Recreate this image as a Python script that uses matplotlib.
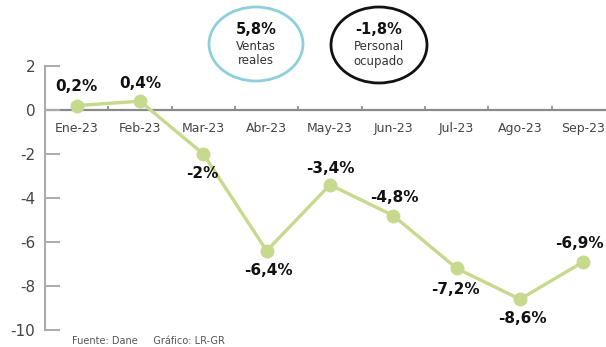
import matplotlib
matplotlib.use("Agg")
import matplotlib.pyplot as plt
from matplotlib.patches import Ellipse

plt.rcParams['axes.unicode_minus'] = False
plt.rcParams['font.family'] = ['DejaVu Sans']

# datos
meses = ["Ene-23", "Feb-23", "Mar-23", "Abr-23", "May-23",
         "Jun-23", "Jul-23", "Ago-23", "Sep-23"]
variacion = [0.2, 0.4, -2.0, -6.4, -3.4, -4.8, -7.2, -8.6, -6.9]
etiquetas = ["0,2%", "0,4%", "-2%", "-6,4%", "-3,4%",
             "-4,8%", "-7,2%", "-8,6%", "-6,9%"]
# desplazamiento de cada etiqueta (puntos)
offsets = [(0, 14), (0, 13), (-1, -14), (1, -14), (0, 12),
           (1, 13), (-1, -15), (2, -14), (-3, 13)]
y_ticks = [2, 0, -2, -4, -6, -8, -10]

verde = '#c6d98c'
gris = '#8a8a8a'

fig = plt.figure(figsize=(6.06, 3.47), dpi=100)
ax = fig.add_axes([45 / 606, 1 - 330 / 347, 570 / 606, 264 / 347])

x = list(range(len(meses)))
ax.set_xlim(-0.5, len(meses) - 0.5)
ax.set_ylim(-10, 2)

# linea de cero y marcas entre meses
ax.axhline(0, color=gris, lw=1.6, zorder=1)
ax.vlines([i + 0.5 for i in x[:-1]], 0, 0.2, color=gris, lw=1.2, zorder=1)

ax.plot(x, variacion, color=verde, lw=2.4, marker='o', markersize=9,
        markerfacecolor=verde, markeredgecolor=verde, zorder=3)

for xi, v, lab, off in zip(x, variacion, etiquetas, offsets):
    ax.annotate(lab, (xi, v), xytext=off, textcoords='offset points',
                ha='center', va='center', fontsize=11, fontweight='bold',
                color='#111111')

for xi, m in zip(x, meses):
    ax.text(xi, -0.86, m, ha='center', va='center', fontsize=9,
            color='#444444')

for s in ['top', 'right', 'bottom']:
    ax.spines[s].set_visible(False)
ax.spines['left'].set_color('#aaaaaa')
ax.spines['left'].set_linewidth(1.5)
ax.set_xticks([])
ax.set_yticks(y_ticks)
ax.set_yticklabels([str(t) for t in y_ticks])
ax.tick_params(axis='y', direction='in', length=11, width=1.4,
               colors='#aaaaaa', labelcolor='#444444', labelsize=11, pad=7)

# circulos resumen
fig.add_artist(Ellipse((256 / 606, 1 - 44 / 347), 94 / 606, 74 / 347,
                       transform=fig.transFigure, fill=False,
                       edgecolor='#8fcfdc', lw=2))
fig.add_artist(Ellipse((379 / 606, 1 - 45 / 347), 96 / 606, 76 / 347,
                       transform=fig.transFigure, fill=False,
                       edgecolor='#111111', lw=2))

fig.text(256 / 606, 1 - 29 / 347, "5,8%", ha='center', va='center',
         fontsize=10.5, fontweight='bold', color='#111111')
fig.text(256 / 606, 1 - 54 / 347, "Ventas\nreales", ha='center', va='center',
         fontsize=8.5, color='#333333', linespacing=1.1)
fig.text(379 / 606, 1 - 29 / 347, "-1,8%", ha='center', va='center',
         fontsize=10.5, fontweight='bold', color='#111111')
fig.text(379 / 606, 1 - 54 / 347, "Personal\nocupado", ha='center',
         va='center', fontsize=8.5, color='#333333', linespacing=1.1)

fig.text(72 / 606, 1 - 341 / 347, "Fuente: Dane     Gráfico: LR-GR",
         ha='left', va='center', fontsize=7, color='#555555')

fig.savefig("out.png", dpi=100)
